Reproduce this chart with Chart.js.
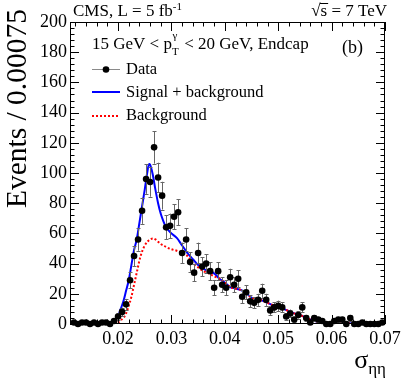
<!DOCTYPE html>
<html><head><meta charset="utf-8">
<script src="https://cdn.jsdelivr.net/npm/chart.js@4.4.1/dist/chart.umd.min.js"></script>
<style>html,body{margin:0;padding:0;background:#fff;overflow:hidden}canvas{display:block}</style>
</head><body>
<canvas id="c" width="407" height="391"></canvas>
<script>
// ---- data ----
const binStart = 0.01175;   // centre of the first histogram bin
const binWidth = 0.00075;
const dataCounts = [1,0,1,1,0,1,0,1,1,0, 2,5,8,13,29,45,56,75,96,94, 117,97,85,64,65,71,74,47,56,41, 34,47,38,40,35,24,35,26,24,31, 26,30,18,21,15,14,16,22,16,9, 11,12,11,5,7,3,6,11,4,1, 4,3,2,0,0,2,3,3,0,4, 0,0,1,0,0,0,0,1];
const dataErrors = [1,0,1,1,0,1,0,1,1,0, 1.4,2.2,2.8,3.6,5.4,6.7,7.5,8.7,9.8,9.7, 10.8,9.8,9.2,8,8.1,8.4,8.6,6.9,7.5,6.4, 5.8,6.9,6.2,6.3,5.9,4.9,5.9,5.1,4.9,5.6, 5.1,5.5,4.2,4.6,3.9,3.7,4,4.7,4,3, 3.3,3.5,3.3,2.2,2.6,1.7,2.4,3.3,2,1, 2,1.7,1.4,0,0,1.4,1.7,1.7,0,2, 0,0,1,0,0,0,0,1];
const curveX = [0.011,0.017,0.018,0.019,0.0195,0.020,0.0205,0.021,0.0215,0.022, 0.0225,0.023,0.0235,0.024,0.0245,0.025,0.0255,0.0258,0.026,0.0265, 0.027,0.0275,0.028,0.0285,0.029,0.030,0.031,0.032,0.033,0.034, 0.035,0.036,0.037,0.038,0.039,0.040,0.041,0.042,0.043,0.044, 0.045,0.046,0.047,0.048,0.049,0.050,0.051,0.052,0.053,0.054, 0.055,0.056,0.057,0.058,0.059,0.060,0.062,0.064,0.066,0.068,0.070];
const sigPlusBkg = [0.3,0.5,0.6,1.5,3,5,10,15,22,29, 39,49,56,67,78,89,101,106,105.5,99, 89,80,73,68,64,60,57,52,47,43, 39,36.5,35,33.5,30,27.5,24.5,23.5,22.5,20.5, 17.5,16.8,15.5,14,12.5,11.5,10,8.5,7,6, 4.5,3,1.8,1,0.4,0.3,0.6,0.4,0.3,0.2,0.2];
const background = [0.2,0.3,0.3,0.2,0.5,1,2.5,4,7,12, 18,26,34,42,48,52,54.5,55.5,56,56.7, 56,54.5,53,52,51,49.5,48.5,47,45,40.5, 37.5,35,33.5,31.5,30,27.5,24.5,23.5,22.5,20.5, 17.5,16.8,15.5,14,12.5,11.5,10,8.5,7,6, 4.5,3,1.8,1,0.4,0.3,0.6,0.4,0.3,0.2,0.2];
const xTickValues = [0.02,0.03,0.04,0.05,0.06,0.07];
const xTickLabels = ['0.02','0.03','0.04','0.05','0.06','0.07'];
const yTickValues = [0,20,40,60,80,100,120,140,160,180,200];
const yTickLabels = ['0','20','40','60','80','100','120','140','160','180','200'];

const binCenters = dataCounts.map((_, i) => binStart + i * binWidth);
const FONT = '"Liberation Serif", "Times New Roman", serif';

const decor = {
  id: 'decor',
  beforeDatasetDraw(chart, args) {
    if (args.index !== 0) return;
    const ctx = chart.ctx, xs = chart.scales.x, ys = chart.scales.y;
    ctx.save();
    ctx.strokeStyle = '#666'; ctx.lineWidth = 1;
    dataCounts.forEach((v, i) => {
      const e = dataErrors[i]; if (!e) return;
      const px = Math.round(xs.getPixelForValue(binCenters[i])) + 0.5;
      const y1 = ys.getPixelForValue(Math.max(0, v - e)), y2 = ys.getPixelForValue(v + e);
      ctx.beginPath(); ctx.moveTo(px, y1); ctx.lineTo(px, y2);
      ctx.moveTo(px - 2, Math.round(y1) + 0.5); ctx.lineTo(px + 2, Math.round(y1) + 0.5);
      ctx.moveTo(px - 2, Math.round(y2) + 0.5); ctx.lineTo(px + 2, Math.round(y2) + 0.5);
      ctx.stroke();
    });
    ctx.restore();
  },
  afterDraw(chart) {
    const ctx = chart.ctx, a = chart.chartArea, xs = chart.scales.x, ys = chart.scales.y;
    ctx.save();
    // frame
    ctx.strokeStyle = '#000'; ctx.lineWidth = 1;
    ctx.strokeRect(a.left + 0.5, a.top + 0.5, a.right - a.left - 1, a.bottom - a.top - 1);
    // ticks
    ctx.beginPath();
    const xt = (v, len) => { const p = Math.round(xs.getPixelForValue(v)) + 0.5;
      ctx.moveTo(p, a.bottom); ctx.lineTo(p, a.bottom - len); ctx.moveTo(p, a.top); ctx.lineTo(p, a.top + len); };
    const yt = (v, len) => { const p = Math.round(ys.getPixelForValue(v)) + 0.5;
      ctx.moveTo(a.left, p); ctx.lineTo(a.left + len, p); ctx.moveTo(a.right, p); ctx.lineTo(a.right - len, p); };
    for (let k = 6; k <= 35; k++) { const v = k * 0.002; if (v < 0.011 || v > 0.0701) continue; xt(v, (k % 5 === 0) ? 9 : 4.5); }
    for (let k = 0; k <= 50; k++) yt(k * 4, (k % 5 === 0) ? 9 : 4.5);
    ctx.stroke();

    ctx.fillStyle = '#000'; ctx.textBaseline = 'alphabetic'; ctx.textAlign = 'left';
    // header
    ctx.font = '17px ' + FONT;
    ctx.fillText('CMS, L = 5 fb', 73, 16);
    let w = ctx.measureText('CMS, L = 5 fb').width;
    ctx.font = '11px ' + FONT; ctx.fillText('-1', 73 + w, 10);
    ctx.font = '17px ' + FONT; ctx.textAlign = 'right';
    ctx.fillText('\u221As = 7 TeV', 387, 16);
    const wr = ctx.measureText('s = 7 TeV').width, ws = ctx.measureText('s').width;
    ctx.beginPath(); ctx.moveTo(387 - wr - 0.5, 3.5); ctx.lineTo(387 - wr + ws + 1, 3.5); ctx.stroke();
    ctx.textAlign = 'left';
    // kinematic label
    ctx.font = '17px ' + FONT;
    const t1 = '15 GeV < p';
    ctx.fillText(t1, 92, 49);
    let x = 92 + ctx.measureText(t1).width;
    ctx.font = '11px ' + FONT; ctx.fillText('T', x, 55); ctx.fillText('\u03B3', x + 0.5, 39);
    x += 8;
    ctx.font = '17px ' + FONT; ctx.fillText(' < 20 GeV, Endcap', x, 49);
    ctx.font = '18px ' + FONT; ctx.fillText('(b)', 342, 53);
    // legend
    ctx.font = '16.5px ' + FONT;
    ctx.strokeStyle = '#8a8a8a'; ctx.lineWidth = 1;
    ctx.beginPath(); ctx.moveTo(92, 69.5); ctx.lineTo(120, 69.5); ctx.stroke();
    ctx.beginPath(); ctx.arc(106, 69.5, 3.3, 0, Math.PI * 2); ctx.fill();
    ctx.fillText('Data', 126, 74);
    const ds2 = chart.data.datasets[2], ds1 = chart.data.datasets[1];
    ctx.strokeStyle = ds2.borderColor; ctx.lineWidth = ds2.borderWidth;
    ctx.beginPath(); ctx.moveTo(92, 92); ctx.lineTo(120, 92); ctx.stroke();
    ctx.fillText('Signal + background', 126, 97);
    ctx.strokeStyle = ds1.borderColor; ctx.lineWidth = ds1.borderWidth; ctx.setLineDash(ds1.borderDash);
    ctx.beginPath(); ctx.moveTo(92, 116); ctx.lineTo(120, 116); ctx.stroke();
    ctx.setLineDash([]);
    ctx.fillText('Background', 126, 120);
    // y title
    ctx.save();
    ctx.translate(26, 9); ctx.rotate(-Math.PI / 2);
    ctx.textAlign = 'right'; ctx.font = '29.5px ' + FONT;
    ctx.fillText('Events / 0.00075', 0, 0);
    ctx.restore();
    // x title
    ctx.textAlign = 'right';
    ctx.font = '17px ' + FONT;
    const wsub = ctx.measureText('\u03B7\u03B7').width;
    ctx.fillText('\u03B7\u03B7', 386, 374);
    ctx.font = '26px ' + FONT;
    ctx.fillText('\u03C3', 386 - wsub, 368);
    ctx.restore();
  }
};

new Chart(document.getElementById('c'), {
  type: 'scatter',
  data: {
    datasets: [
      { label: 'Data', data: dataCounts.map((v, i) => ({ x: binCenters[i], y: v })), pointRadius: 3.3,
        pointBackgroundColor: '#000', pointBorderWidth: 0, showLine: false, clip: 6 },
      { label: 'Background', type: 'line', data: curveX.map((v, i) => ({ x: v, y: background[i] })),
        borderColor: '#ff0000', borderWidth: 2, borderDash: [2, 2], pointRadius: 0, fill: false,
        cubicInterpolationMode: 'monotone' },
      { label: 'Signal + background', type: 'line', data: curveX.map((v, i) => ({ x: v, y: sigPlusBkg[i] })),
        borderColor: '#0000ff', borderWidth: 2, pointRadius: 0, fill: false,
        cubicInterpolationMode: 'monotone' }
    ]
  },
  options: {
    responsive: false, animation: false, devicePixelRatio: 1,
    layout: { padding: { left: 0, right: 22, top: 22, bottom: 0 } },
    plugins: { legend: { display: false }, tooltip: { enabled: false } },
    scales: {
      x: {
        type: 'linear', min: 0.011, max: 0.07,
        afterFit(s) { s.height = 67; },
        afterBuildTicks(s) { s.ticks = xTickValues.map(v => ({ value: v })); },
        ticks: { callback: v => xTickLabels[xTickValues.indexOf(v)], font: { family: FONT, size: 18 },
          color: '#000', padding: 4, maxRotation: 0, autoSkip: false },
        grid: { display: false, drawTicks: false }, border: { display: false }
      },
      y: {
        min: 0, max: 200,
        afterFit(s) { s.width = 70; },
        afterBuildTicks(s) { s.ticks = yTickValues.map(v => ({ value: v })); },
        ticks: { callback: v => yTickLabels[yTickValues.indexOf(v)], font: { family: FONT, size: 18 },
          color: '#000', padding: 3, autoSkip: false },
        grid: { display: false, drawTicks: false }, border: { display: false }
      }
    }
  },
  plugins: [decor]
});
</script>
</body></html>
